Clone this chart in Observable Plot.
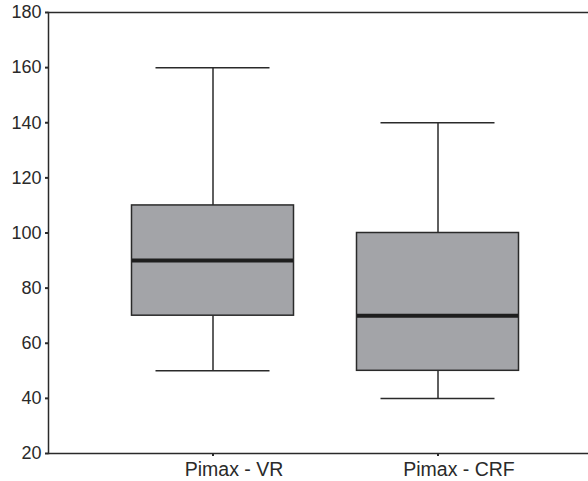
<!DOCTYPE html>
<html>
<head>
<meta charset="utf-8">
<script src="https://cdn.jsdelivr.net/npm/d3@7"></script>
<script src="https://cdn.jsdelivr.net/npm/@observablehq/plot@0.6"></script>
<style>
  html, body { margin: 0; padding: 0; background: #fff; }
  #chart svg { display: block; }
</style>
</head>
<body>
<div id="chart"></div>
<script>
const categories = ["Pimax - VR", "Pimax - CRF"];
const mins    = [50, 40];
const q1s     = [70, 50];
const medians = [90, 70];
const q3s     = [110, 100];
const maxs    = [160, 140];
const yTicks  = [20, 40, 60, 80, 100, 120, 140, 160, 180];

const boxes = categories.map((c, i) => ({
  cat: c, min: mins[i], q1: q1s[i], median: medians[i], q3: q3s[i], max: maxs[i]
}));

const ink = "#2a2a2a";
const font = "'Liberation Sans', Arial, Helvetica, sans-serif";

const chart = Plot.plot({
  width: 588,
  height: 481,
  marginLeft: 48,
  marginRight: 0,
  marginTop: 12,
  marginBottom: 28,
  style: { fontFamily: font, background: "#fff", color: ink },
  x: { type: "band", domain: categories, range: [99.5, 549.5], padding: 0, label: null },
  y: { domain: [20, 180], label: null },
  marks: [
    // whiskers
    Plot.ruleX(boxes, { x: "cat", y1: "q3", y2: "max", stroke: ink, strokeWidth: 1.5 }),
    Plot.ruleX(boxes, { x: "cat", y1: "min", y2: "q1", stroke: ink, strokeWidth: 1.5 }),
    // whisker caps
    Plot.tickY(boxes, { x: "cat", y: "max", stroke: ink, strokeWidth: 1.5, insetLeft: 55.5, insetRight: 55.5 }),
    Plot.tickY(boxes, { x: "cat", y: "min", stroke: ink, strokeWidth: 1.5, insetLeft: 55.5, insetRight: 55.5 }),
    // boxes
    Plot.barY(boxes, { x: "cat", y1: "q1", y2: "q3", fill: "#a3a4a8", stroke: ink, strokeWidth: 1.5, insetLeft: 31.5, insetRight: 31.5 }),
    // medians
    Plot.tickY(boxes, { x: "cat", y: "median", stroke: "#1e1e1e", strokeWidth: 4, insetLeft: 32, insetRight: 32 }),
    // frame lines
    Plot.ruleY([20, 180], { stroke: ink, strokeWidth: 1.3 }),
    Plot.frame({ anchor: "left", stroke: ink, strokeWidth: 1.5 }),
    // y axis
    Plot.axisY({ ticks: yTicks, tickSize: 3, tickPadding: 4, strokeWidth: 2, fontSize: 18, fill: ink, label: null }),
    // x axis ticks
    Plot.axisX({ tickSize: 3, strokeWidth: 2, tickFormat: () => "", label: null }),
    // x labels (offset to the right as in the original)
    Plot.text(categories, { x: d => d, frameAnchor: "bottom", lineAnchor: "top", dy: 9, dx: 21, fontSize: 19.5, fill: ink, text: d => d })
  ]
});

document.getElementById("chart").appendChild(chart);
</script>
</body>
</html>
